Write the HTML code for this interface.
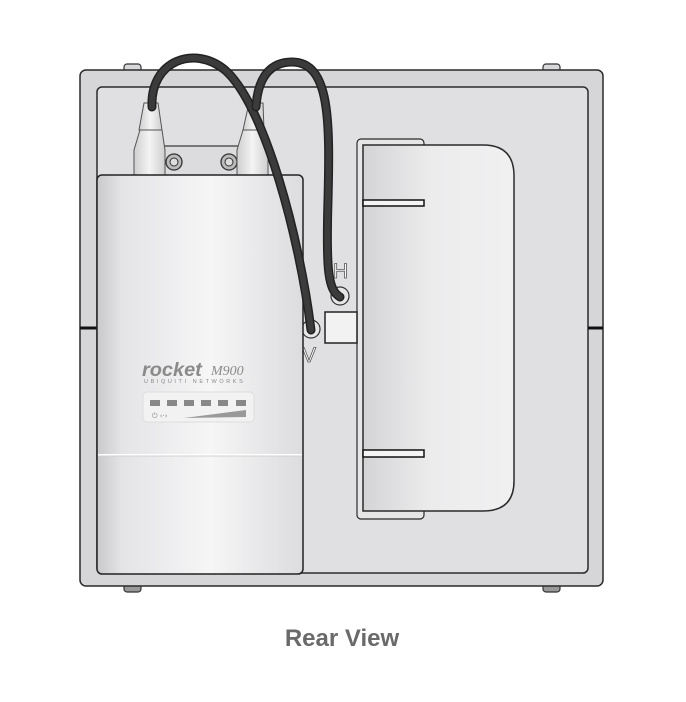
<!DOCTYPE html>
<html><head><style>
html,body{margin:0;padding:0;background:#fff;width:686px;height:702px;overflow:hidden}
</style></head><body>
<svg width="686" height="702" viewBox="0 0 686 702" xmlns="http://www.w3.org/2000/svg">
<defs>
<linearGradient id="rk" x1="0" x2="1" y1="0" y2="0">
<stop offset="0" stop-color="#c9c9cb"/><stop offset="0.12" stop-color="#e4e4e6"/><stop offset="0.55" stop-color="#f6f6f7"/><stop offset="1" stop-color="#dcdcde"/></linearGradient>
<linearGradient id="br" x1="0" x2="1" y1="0" y2="0">
<stop offset="0" stop-color="#d4d4d6"/><stop offset="0.45" stop-color="#ececed"/><stop offset="1" stop-color="#f0f0f1"/></linearGradient>
<linearGradient id="cn" x1="0" x2="1"><stop offset="0" stop-color="#cfcfd0"/><stop offset="0.5" stop-color="#f4f4f4"/><stop offset="1" stop-color="#cfcfd0"/></linearGradient>
</defs>
<rect x="124" y="64" width="17" height="8" rx="3" fill="#d8d8da" stroke="#333" stroke-width="1.2"/>
<rect x="543" y="64" width="17" height="8" rx="3" fill="#d8d8da" stroke="#333" stroke-width="1.2"/>
<rect x="124" y="584" width="17" height="8" rx="3" fill="#999" stroke="#333" stroke-width="1.2"/>
<rect x="543" y="584" width="17" height="8" rx="3" fill="#999" stroke="#333" stroke-width="1.2"/>
<rect x="80" y="70" width="523" height="516" rx="6" fill="#d6d6d8" stroke="#2a2a2a" stroke-width="1.5"/>
<rect x="97" y="87" width="491" height="486" rx="5" fill="#e0e0e2" stroke="#2a2a2a" stroke-width="1.5"/>
<line x1="80" y1="328" x2="97" y2="328" stroke="#111" stroke-width="3"/>
<line x1="588" y1="328" x2="603" y2="328" stroke="#111" stroke-width="3"/>
<path d="M357,330 L357,372 L400,372 Z" fill="#c8c8ca"/>
<rect x="357" y="139" width="67" height="380" rx="4" fill="#e6e6e7" stroke="#2a2a2a" stroke-width="1.2"/>
<path d="M363,145 L483,145 Q514,145 514,176 L514,481 Q514,511 483,511 L363,511 Z" fill="url(#br)" stroke="#2a2a2a" stroke-width="1.5"/>
<rect x="363" y="200" width="61" height="6" fill="#f4f4f4" stroke="#111" stroke-width="1.5"/>
<rect x="363" y="450" width="61" height="7" fill="#f4f4f4" stroke="#111" stroke-width="1.5"/>
<rect x="325" y="312" width="32" height="31" fill="#f2f2f2" stroke="#222" stroke-width="1.5"/>
<circle cx="340" cy="296" r="9" fill="#e6e6e6" stroke="#333" stroke-width="1.2"/>
<circle cx="311" cy="329" r="9" fill="#e6e6e6" stroke="#333" stroke-width="1.2"/>
<text x="333" y="278" font-family="Liberation Sans, sans-serif" font-size="21" fill="#fff" stroke="#555" stroke-width="0.8">H</text>
<text x="302" y="362" font-family="Liberation Sans, sans-serif" font-size="21" fill="#fff" stroke="#555" stroke-width="0.8">V</text>
<rect x="160" y="146" width="82" height="30" fill="#dcdcde" stroke="#333" stroke-width="1.2"/>
<circle cx="174" cy="162" r="8" fill="#bbb" stroke="#333" stroke-width="1.3"/><circle cx="174" cy="162" r="4" fill="#ddd" stroke="#333"/>
<circle cx="229" cy="162" r="8" fill="#bbb" stroke="#333" stroke-width="1.3"/><circle cx="229" cy="162" r="4" fill="#ddd" stroke="#333"/>
<path d="M134,175 L134,150 L140,130 L162,130 L165,150 L165,175 Z" fill="url(#cn)" stroke="#555" stroke-width="1"/>
<path d="M139,130 L144,103 L158,103 L162,130 Z" fill="url(#cn)" stroke="#555" stroke-width="1"/>
<path d="M237,175 L237,150 L243,130 L265,130 L268,150 L268,175 Z" fill="url(#cn)" stroke="#555" stroke-width="1"/>
<path d="M243,130 L249,103 L263,103 L264,130 Z" fill="url(#cn)" stroke="#555" stroke-width="1"/>
<rect x="97" y="175" width="206" height="399" rx="5" fill="url(#rk)" stroke="#222" stroke-width="1.5"/>
<line x1="98" y1="455" x2="302" y2="455" stroke="#fff" stroke-width="2"/>
<line x1="98" y1="456" x2="302" y2="456" stroke="#d0d0d0" stroke-width="1"/>
<text x="142" y="376" font-family="Liberation Sans, sans-serif" font-style="italic" font-weight="bold" font-size="19" fill="#8a8a8a" transform="translate(142,0) scale(1.05,1) translate(-142,0)">rocket</text>
<text x="211" y="375" font-family="Liberation Serif, serif" font-style="italic" font-size="14" fill="#8a8a8a">M900</text>
<text x="144" y="383" font-family="Liberation Sans, sans-serif" font-size="5.5" fill="#888" letter-spacing="2.6">UBIQUITI NETWORKS</text>
<rect x="143" y="392" width="111" height="30" rx="4" fill="#f2f2f2" stroke="#ddd"/>
<g fill="#888"><rect x="150" y="400" width="10" height="6"/><rect x="167" y="400" width="10" height="6"/><rect x="184" y="400" width="10" height="6"/><rect x="201" y="400" width="10" height="6"/><rect x="218" y="400" width="10" height="6"/><rect x="236" y="400" width="10" height="6"/></g>
<path d="M184,418 L246,410 L246,417 Z" fill="#999"/>
<text x="152" y="418" font-family="DejaVu Sans, sans-serif" font-size="7" fill="#888">⏻ ‹·›</text>
<g fill="none" stroke-linecap="round">
<path d="M152,107 C150,60 195,45 225,70 C265,105 300,240 311,330" stroke="#222" stroke-width="9"/>
<path d="M152,107 C150,60 195,45 225,70 C265,105 300,240 311,330" stroke="#3b3b3b" stroke-width="6"/>
<path d="M256,107 C258,75 272,62 292,62 C330,62 330,120 328,200 C326,270 328,290 340,297" stroke="#222" stroke-width="9"/>
<path d="M256,107 C258,75 272,62 292,62 C330,62 330,120 328,200 C326,270 328,290 340,297" stroke="#3b3b3b" stroke-width="6"/>
</g>
<text x="342" y="646" text-anchor="middle" font-family="Liberation Sans, sans-serif" font-weight="bold" font-size="24" fill="#6a6a6a">Rear View</text>
</svg>
</body></html>
